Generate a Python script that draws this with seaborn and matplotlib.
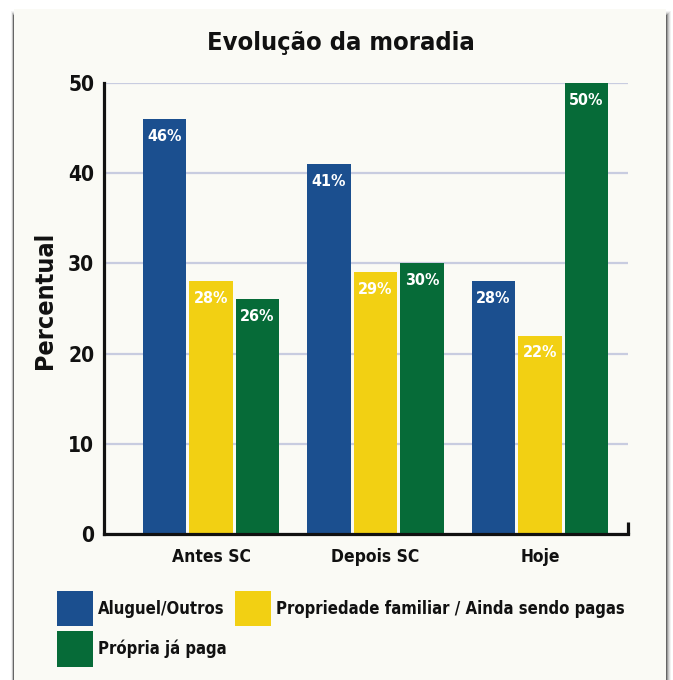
import pandas as pd
import seaborn as sns
import matplotlib.pyplot as plt
from matplotlib.patches import Rectangle
from matplotlib.legend_handler import HandlerPatch
from matplotlib import font_manager

categories = ["Antes SC", "Depois SC", "Hoje"]
series_names = ["Aluguel/Outros", "Propriedade familiar / Ainda sendo pagas", "Própria já paga"]
aluguel = [46, 41, 28]
propriedade = [28, 29, 22]
propria = [26, 30, 50]
colors = ["#1B4F8F", "#F2D013", "#066B38"]

rows = []
for name, vals in zip(series_names, [aluguel, propriedade, propria]):
    for cat, v in zip(categories, vals):
        rows.append({"cat": cat, "serie": name, "valor": v})
df = pd.DataFrame(rows)

sns.set_style("white")
nomes = {f.name for f in font_manager.fontManager.ttflist}
if "Liberation Sans Narrow" in nomes:
    plt.rcParams['font.family'] = ['Liberation Sans Narrow', 'DejaVu Sans']
else:
    plt.rcParams['font.family'] = ['DejaVu Sans']
    plt.rcParams['font.stretch'] = 'condensed'
plt.rcParams['font.weight'] = 'bold'
plt.rcParams['text.color'] = '#111111'
plt.rcParams['axes.labelcolor'] = '#111111'
plt.rcParams['xtick.color'] = '#111111'
plt.rcParams['ytick.color'] = '#111111'

fig = plt.figure(figsize=(6.73, 6.80), dpi=100)
fig.patch.set_facecolor("white")

# painel com sombra
for i, a in enumerate([0.05, 0.08, 0.12, 0.2, 0.35]):
    d = (5 - i) / 673
    fig.patches.append(Rectangle((14 / 673 - d * 0.6, -0.01), 652 / 673 + d * 1.6, 671 / 680 + d,
                                 transform=fig.transFigure, facecolor="black", alpha=a,
                                 edgecolor="none", zorder=0))
fig.patches.append(Rectangle((14 / 673, -0.01), 652 / 673, 671 / 680 + 0.01,
                             transform=fig.transFigure, facecolor="#FAFAF5",
                             edgecolor="none", zorder=0.5))

ax = fig.add_axes([104 / 673, 1 - 534 / 680, (628 - 104) / 673, (534 - 83) / 680])
ax.set_zorder(2)
ax.set_facecolor("none")

sns.barplot(data=df, x="cat", y="valor", hue="serie", palette=colors, hue_order=series_names,
            order=categories, width=0.85, gap=0.07, saturation=1, linewidth=0, ax=ax, legend=True)

for cont in ax.containers:
    for p in cont:
        h = p.get_height()
        ax.annotate(f"{h:.0f}%", (p.get_x() + p.get_width() / 2, h), xytext=(0, -7),
                    textcoords="offset points", ha="center", va="top",
                    color="white", fontsize=11.5, fontweight="bold")

ax.set_xlim(-0.65, 2.535)
ax.set_ylim(0, 50)
ax.set_yticks([0, 10, 20, 30, 40, 50])
ax.yaxis.grid(True, color="#C8CCE0", linewidth=1.6)
ax.set_axisbelow(True)
for s in ["top", "right"]:
    ax.spines[s].set_visible(False)
for s in ["left", "bottom"]:
    ax.spines[s].set_color("#111111")
    ax.spines[s].set_linewidth(2.3)
ax.plot([1, 1], [0, 0.027], transform=ax.transAxes, color="#111111", lw=2.3,
        clip_on=False, solid_capstyle="butt")
ax.tick_params(axis="y", length=0, pad=7, labelsize=15)
ax.tick_params(axis="x", length=0, pad=10, labelsize=12.5)
for t in ax.get_xticklabels() + ax.get_yticklabels():
    t.set_fontweight("bold")
ax.set_xlabel("")
ax.set_ylabel("Percentual", fontsize=18, fontweight="bold")
ax.yaxis.set_label_coords(-47 / 524, 0.517)

fig.text(341 / 673, 1 - 43 / 680, "Evolução da moradia", ha="center", va="center",
         fontsize=18.3, fontweight="bold")


def quadrado(legend, orig_handle, xdescent, ydescent, width, height, fontsize):
    extra = 5
    return Rectangle((-xdescent, -ydescent - extra / 2), width, height + extra,
                     facecolor=orig_handle.get_facecolor(), edgecolor="none")


handles, labels = ax.get_legend_handles_labels()
ax.get_legend().remove()
ordem = [0, 2, 1]
hs = [handles[i] for i in ordem]
fig.legend(hs, [labels[i] for i in ordem], loc="upper left",
           bbox_to_anchor=(42 / 673, 1 - 579 / 680),
           ncol=2, frameon=False, handlelength=2.15, handleheight=2.3,
           handletextpad=0.3, columnspacing=0.5, labelspacing=0.7,
           handler_map={h: HandlerPatch(patch_func=quadrado) for h in hs},
           prop={"weight": "bold", "size": 12})

fig.savefig("out.png", dpi=100, facecolor=fig.get_facecolor())
